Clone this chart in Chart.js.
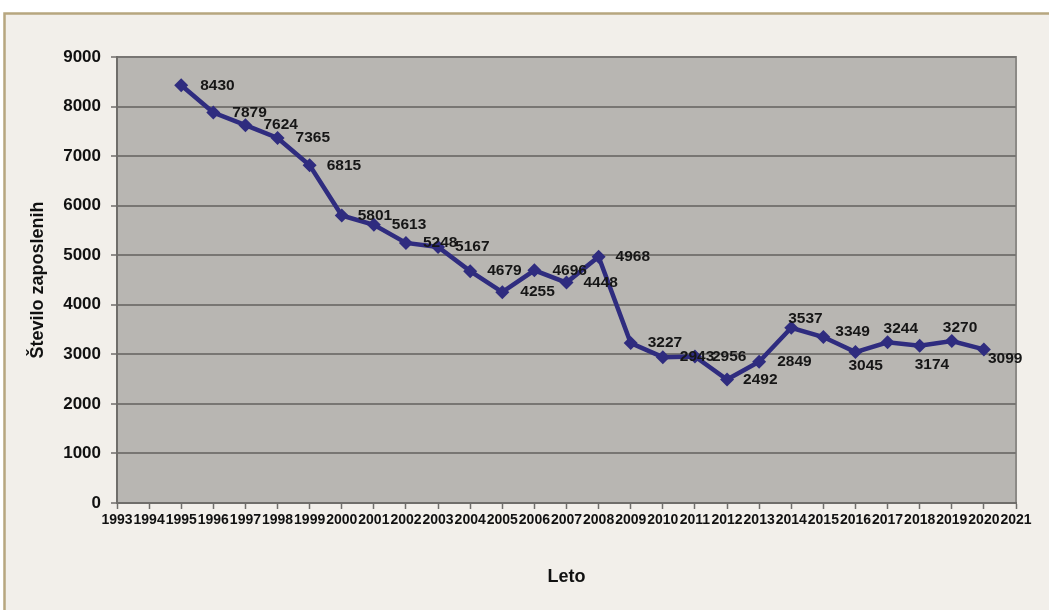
<!DOCTYPE html>
<html>
<head>
<meta charset="utf-8">
<script src="https://cdn.jsdelivr.net/npm/chart.js@4.4.1/dist/chart.umd.min.js"></script>
<style>
  html, body { margin: 0; padding: 0; background: #ffffff; }
  canvas { display: block; }
</style>
</head>
<body>
<canvas id="chart" width="1049" height="610"></canvas>
<script>
// Number of employees per year
const years = [1995, 1996, 1997, 1998, 1999, 2000, 2001, 2002, 2003, 2004, 2005, 2006, 2007,
               2008, 2009, 2010, 2011, 2012, 2013, 2014, 2015, 2016, 2017, 2018, 2019, 2020];
const employees = [8430, 7879, 7624, 7365, 6815, 5801, 5613, 5248, 5167, 4679, 4255, 4696, 4448,
                   4968, 3227, 2943, 2956, 2492, 2849, 3537, 3349, 3045, 3244, 3174, 3270, 3099];

// Category labels along the x axis
const axisYears = ['1993', '1994', '1995', '1996', '1997', '1998', '1999', '2000', '2001', '2002',
                   '2003', '2004', '2005', '2006', '2007', '2008', '2009', '2010', '2011', '2012',
                   '2013', '2014', '2015', '2016', '2017', '2018', '2019', '2020', '2021'];

// Value axis range and step
const yMin = 0;
const yMax = 9000;
const yStep = 1000;

// Where each value label sits relative to its point: [dx to text start, dy]
const labelOffsets = [
  [19, 0], [19, 0], [18, 0], [18, 0], [17, 0], [16, 0], [18, 0], [17, 0], [17, 0], [17, 0],
  [18, 0], [18, 0], [17, 0], [17, 0], [17, 0], [17, 0], [17, 0], [16, 0], [18, 0],
  [-3, -9], [12, -5], [-7, 14], [-4, -14], [-5, 19], [-9, -13], [4, 9]
];

const FONT = '"Liberation Sans", Arial, Helvetica, sans-serif';
const LINE_COLOR = '#2f2c7f';

const seriesData = axisYears.map(label => {
  const i = years.indexOf(Number(label));
  return i < 0 ? null : employees[i];
});

const backdrop = {
  id: 'backdrop',
  beforeDraw(chart) {
    const { ctx, chartArea: a, width, height } = chart;
    ctx.save();
    ctx.fillStyle = '#ffffff';
    ctx.fillRect(0, 0, width, height);
    // outer frame
    ctx.fillStyle = '#f2efea';
    ctx.fillRect(4, 13, width, height);
    ctx.strokeStyle = '#b7a67f';
    ctx.lineWidth = 2.5;
    ctx.beginPath();
    ctx.moveTo(4.5, height + 5);
    ctx.lineTo(4.5, 13.5);
    ctx.lineTo(width + 5, 13.5);
    ctx.stroke();
    // plot area
    ctx.fillStyle = '#b8b6b2';
    ctx.fillRect(a.left, a.top, a.right - a.left, a.bottom - a.top);
    ctx.strokeStyle = '#8c8a86';
    ctx.lineWidth = 2;
    ctx.strokeRect(a.left, a.top, a.right - a.left, a.bottom - a.top);
    ctx.restore();
  }
};

const valueLabels = {
  id: 'valueLabels',
  afterDatasetsDraw(chart) {
    const { ctx } = chart;
    const meta = chart.getDatasetMeta(0);
    ctx.save();
    ctx.font = 'bold 15.5px ' + FONT;
    ctx.fillStyle = '#161616';
    ctx.textAlign = 'left';
    ctx.textBaseline = 'middle';
    years.forEach((year, i) => {
      const j = axisYears.indexOf(String(year));
      const pt = meta.data[j];
      if (!pt) return;
      const [dx, dy] = labelOffsets[i];
      ctx.fillText(String(employees[i]), pt.x + dx, pt.y + dy);
    });
    ctx.restore();
  }
};

new Chart(document.getElementById('chart'), {
  type: 'line',
  data: {
    labels: axisYears,
    datasets: [{
      data: seriesData,
      borderColor: LINE_COLOR,
      backgroundColor: LINE_COLOR,
      borderWidth: 4.5,
      pointStyle: 'rectRot',
      pointRadius: 7,
      pointBorderWidth: 0,
      pointBackgroundColor: LINE_COLOR,
      tension: 0,
      spanGaps: false
    }]
  },
  options: {
    responsive: false,
    animation: false,
    devicePixelRatio: 1,
    layout: { padding: { left: 0, top: 57, right: 33, bottom: 0 } },
    plugins: {
      legend: { display: false },
      tooltip: { enabled: false }
    },
    scales: {
      x: {
        offset: false,
        afterFit(scale) { scale.height = 107; },
        grid: {
          display: true,
          drawOnChartArea: false,
          drawTicks: true,
          tickLength: 6,
          tickColor: '#6f6d6a',
          tickWidth: 1.5
        },
        border: { display: true, color: '#6f6d6a', width: 2 },
        ticks: {
          autoSkip: false,
          maxRotation: 0,
          minRotation: 0,
          padding: 3,
          color: '#111111',
          font: { family: FONT, size: 14, weight: 'bold' }
        },
        title: {
          display: true,
          text: 'Leto',
          color: '#111111',
          font: { family: FONT, size: 18, weight: 'bold' },
          padding: { top: 0, bottom: 22 }
        }
      },
      y: {
        min: yMin,
        max: yMax,
        afterFit(scale) { scale.width = 117; },
        grid: {
          color: '#787673',
          lineWidth: 2,
          drawTicks: true,
          tickLength: 6,
          tickColor: '#6f6d6a',
          tickWidth: 1.5
        },
        border: { display: true, color: '#6f6d6a', width: 2 },
        ticks: {
          stepSize: yStep,
          padding: 10,
          color: '#111111',
          font: { family: FONT, size: 17, weight: 'bold' },
          callback: v => String(v)
        },
        title: {
          display: true,
          text: 'Število zaposlenih',
          color: '#111111',
          font: { family: FONT, size: 18, weight: 'bold' },
          padding: { top: 27, bottom: 0 }
        }
      }
    }
  },
  plugins: [backdrop, valueLabels]
});
</script>
</body>
</html>
